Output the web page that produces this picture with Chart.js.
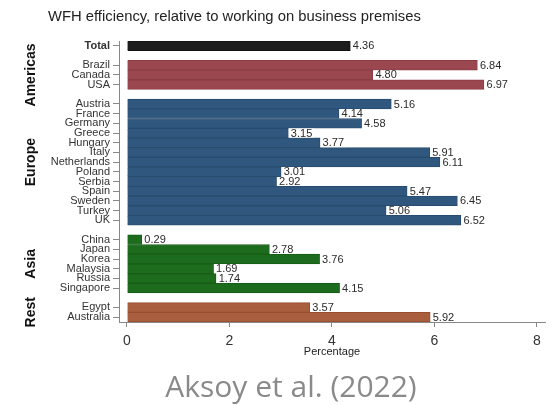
<!DOCTYPE html>
<html>
<head>
<meta charset="utf-8">
<script src="https://cdn.jsdelivr.net/npm/chart.js@4.4.1/dist/chart.umd.min.js"></script>
<style>
  html, body { margin: 0; padding: 0; background: #fff; }
  #wrap { position: relative; width: 552px; height: 405px; overflow: hidden; }
  #c { position: absolute; left: 0; top: 0; }
  #title { position: absolute; left: 48px; top: 8px; font: 14.8px "Liberation Sans", Arial, sans-serif; color: #222; white-space: nowrap; }
  #caption { position: absolute; left: 0; width: 582px; text-align: center; top: 365px; font: 30px "Open Sans", sans-serif; color: #8a8a8a; white-space: nowrap; }
</style>
</head>
<body>
<div id="wrap">
  <canvas id="c" width="552" height="405"></canvas>
  <div id="title">WFH efficiency, relative to working on business premises</div>
  <div id="caption">Aksoy et al. (2022)</div>
</div>
<script>
// ---- data ----
const groupNames = ['', 'Americas', 'Europe', 'Asia', 'Rest'];
const totalLabels = ['Total'];
const totalValues = [4.36];
const americasLabels = ['Brazil', 'Canada', 'USA'];
const americasValues = [6.84, 4.80, 6.97];
const europeLabels = ['Austria', 'France', 'Germany', 'Greece', 'Hungary', 'Italy', 'Netherlands', 'Poland', 'Serbia', 'Spain', 'Sweden', 'Turkey', 'UK'];
const europeValues = [5.16, 4.14, 4.58, 3.15, 3.77, 5.91, 6.11, 3.01, 2.92, 5.47, 6.45, 5.06, 6.52];
const asiaLabels = ['China', 'Japan', 'Korea', 'Malaysia', 'Russia', 'Singapore'];
const asiaValues = [0.29, 2.78, 3.76, 1.69, 1.74, 4.15];
const restLabels = ['Egypt', 'Australia'];
const restValues = [3.57, 5.92];
const xTicks = [0, 2, 4, 6, 8];

const groupColors = ['#1c1c1c', '#9a4750', '#30587e', '#1d6b1d', '#a95e3e'];
const groupBorders = ['#111111', '#8a3c45', '#284c6f', '#175c17', '#984f31'];

// build combined category list with blank spacer rows between groups
const groupLabelSets = [totalLabels, americasLabels, europeLabels, asiaLabels, restLabels];
const groupValueSets = [totalValues, americasValues, europeValues, asiaValues, restValues];
const categories = [], values = [], colors = [], borders = [], groupIndex = [];
groupLabelSets.forEach((labs, g) => {
  if (g > 0) { categories.push(''); values.push(null); colors.push('rgba(0,0,0,0)'); borders.push('rgba(0,0,0,0)'); groupIndex.push(-1); }
  labs.forEach((l, i) => {
    categories.push(l); values.push(groupValueSets[g][i]);
    colors.push(groupColors[g]); borders.push(groupBorders[g]); groupIndex.push(g);
  });
});

const FONT = '"Liberation Sans", Arial, sans-serif';

const valueLabels = {
  id: 'valueLabels',
  afterDatasetsDraw(chart) {
    const ctx = chart.ctx;
    const meta = chart.getDatasetMeta(0);
    ctx.save();
    ctx.font = '11px ' + FONT;
    ctx.textBaseline = 'middle';
    ctx.textAlign = 'left';
    meta.data.forEach((bar, i) => {
      const v = values[i];
      if (v === null) return;
      const txt = v.toFixed(2);
      const w = ctx.measureText(txt).width;
      const h = bar.height;
      ctx.fillStyle = '#ffffff';
      ctx.fillRect(bar.x + 0.5, bar.y - h / 2 + 0.5, w + 4, h - 1);
      ctx.fillStyle = '#2a2a2a';
      ctx.fillText(txt, bar.x + 2.5, bar.y + 0.5);
    });
    ctx.restore();
  }
};

const groupTitles = {
  id: 'groupTitles',
  afterDraw(chart) {
    const ctx = chart.ctx;
    const ys = chart.scales.y;
    ctx.save();
    ctx.font = 'bold 14px ' + FONT;
    ctx.fillStyle = '#111';
    ctx.textAlign = 'center';
    ctx.textBaseline = 'middle';
    for (let g = 1; g < groupNames.length; g++) {
      const idx = [];
      groupIndex.forEach((gi, i) => { if (gi === g) idx.push(i); });
      const y0 = ys.getPixelForValue(idx[0]);
      const y1 = ys.getPixelForValue(idx[idx.length - 1]);
      ctx.save();
      ctx.translate(31, (y0 + y1) / 2);
      ctx.rotate(-Math.PI / 2);
      ctx.fillText(groupNames[g], 0, 0);
      ctx.restore();
    }
    ctx.restore();
  }
};

new Chart(document.getElementById('c'), {
  type: 'bar',
  data: {
    labels: categories,
    datasets: [{
      data: values,
      backgroundColor: colors,
      borderColor: borders,
      borderWidth: 1,
      barPercentage: 1,
      categoryPercentage: 1
    }]
  },
  options: {
    indexAxis: 'y',
    responsive: false,
    animation: false,
    layout: { padding: { top: 41, right: 7, bottom: 43, left: 0 } },
    plugins: { legend: { display: false }, tooltip: { enabled: false } },
    scales: {
      x: {
        type: 'linear',
        min: -0.156,
        max: 8.16,
        afterBuildTicks(scale) { scale.ticks = xTicks.map(v => ({ value: v })); },
        afterFit(scale) { scale.height = 40; },
        border: { display: true, color: '#888', width: 1 },
        grid: { display: true, drawOnChartArea: false, drawTicks: true, tickLength: 5, tickColor: '#888' },
        ticks: { font: { family: FONT, size: 14 }, color: '#333', padding: 6, maxRotation: 0 },
        title: { display: true, text: 'Percentage', font: { family: FONT, size: 11 }, color: '#222', padding: { top: 0, bottom: 3 } }
      },
      y: {
        afterFit(scale) { scale.width = 119; },
        border: { display: true, color: '#888', width: 1 },
        grid: {
          display: true, offset: false, drawOnChartArea: false, drawTicks: true, tickLength: 6,
          tickColor: (c) => (categories[c.index] ? '#888' : 'rgba(0,0,0,0)')
        },
        ticks: {
          autoSkip: false,
          padding: 3,
          color: '#333',
          font: (c) => ({ family: FONT, size: 11, weight: categories[c.index] === 'Total' ? 'bold' : 'normal' })
        }
      }
    }
  },
  plugins: [valueLabels, groupTitles]
});
</script>
</body>
</html>
